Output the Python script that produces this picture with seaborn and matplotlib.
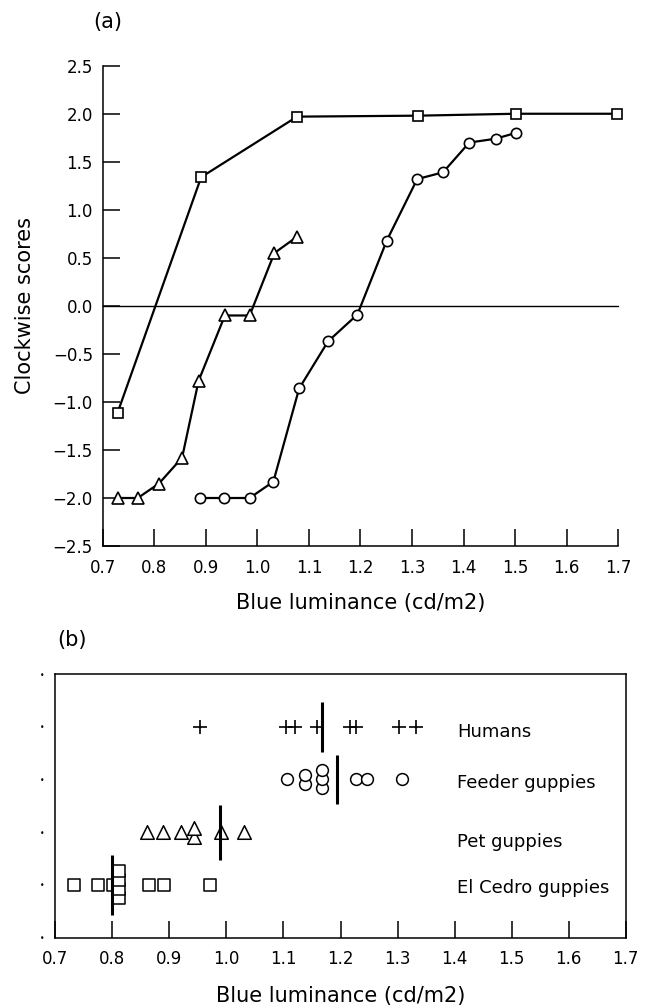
import numpy as np
import pandas as pd
import matplotlib
matplotlib.use('Agg')
import matplotlib.pyplot as plt
from matplotlib.ticker import FuncFormatter
import seaborn as sns

# panel (a): clockwise scores against blue luminance, three groups
square_x = [0.729, 0.891, 1.077, 1.311, 1.501, 1.697]
square_y = [-1.11, 1.34, 1.97, 1.98, 2.00, 2.00]
triangle_x = [0.729, 0.768, 0.809, 0.854, 0.886, 0.937, 0.985, 1.033, 1.077]
triangle_y = [-2.00, -2.00, -1.85, -1.58, -0.78, -0.10, -0.10, 0.55, 0.72]
circle_x = [0.888, 0.936, 0.985, 1.031, 1.081, 1.137, 1.194, 1.251, 1.310,
            1.360, 1.411, 1.462, 1.501]
circle_y = [-2.00, -2.00, -2.00, -1.83, -0.86, -0.37, -0.09, 0.68, 1.32,
            1.39, 1.70, 1.74, 1.80]

# panel (b): individual thresholds per group, with the group value as a bar
groups = ['El Cedro guppies', 'Pet guppies', 'Feeder guppies', 'Humans']
elcedro_x = [0.733, 0.774, 0.802, 0.812, 0.812, 0.812, 0.812, 0.864, 0.891, 0.972]
pet_x = [0.861, 0.889, 0.921, 0.944, 0.944, 0.990, 1.031]
feeder_x = [1.107, 1.138, 1.138, 1.168, 1.168, 1.168, 1.228, 1.246, 1.307]
humans_x = [0.954, 1.105, 1.121, 1.158, 1.216, 1.227, 1.303, 1.332]
group_lines = [0.800, 0.989, 1.193, 1.168]

x_ticks = [0.7, 0.8, 0.9, 1.0, 1.1, 1.2, 1.3, 1.4, 1.5, 1.6, 1.7]

sns.set_style('ticks')
plt.rcParams['font.family'] = ['DejaVu Sans']
plt.rcParams['axes.linewidth'] = 1.1
for key in ['text.color', 'axes.labelcolor', 'axes.edgecolor',
            'xtick.color', 'ytick.color']:
    plt.rcParams[key] = 'black'

fmt = FuncFormatter(lambda v, _: f"{v:.1f}".replace('-', '\u2212'))

fig = plt.figure(figsize=(6.5, 10.08), dpi=100)
ax_a = fig.add_axes([0.158, 0.4583, 0.7932, 0.4765])
ax_b = fig.add_axes([0.0851, 0.0699, 0.8775, 0.2614])

# ---- (a)
series = [('square', square_x, square_y, 's', 7.2),
          ('triangle', triangle_x, triangle_y, '^', 8.2),
          ('circle', circle_x, circle_y, 'o', 7.4)]
ax_a.axhline(0, color='black', lw=1.0, zorder=1)
for name, xs, ys, mk, ms in series:
    d = pd.DataFrame({'lum': xs, 'score': ys})
    sns.lineplot(data=d, x='lum', y='score', ax=ax_a, estimator=None, sort=False,
                 color='black', lw=1.6, marker=mk, markersize=ms,
                 markerfacecolor='white', markeredgecolor='black',
                 markeredgewidth=1.2)
for ln in ax_a.lines:
    ln.set_clip_on(False)

ax_a.set_xlim(0.7, 1.7)
ax_a.set_ylim(-2.5, 2.5)
ax_a.set_xticks(x_ticks)
ax_a.set_yticks(np.arange(-2.5, 2.51, 0.5))
ax_a.xaxis.set_major_formatter(fmt)
ax_a.yaxis.set_major_formatter(fmt)
ax_a.tick_params(direction='in', length=12.5, width=1.1, labelsize=12)
ax_a.tick_params(axis='x', pad=9)
ax_a.tick_params(axis='y', pad=7)
sns.despine(ax=ax_a)
ax_a.set_xlabel('Blue luminance (cd/m2)', fontsize=15)
ax_a.set_ylabel('Clockwise scores', fontsize=15)
ax_a.xaxis.set_label_coords(0.5, -0.0972)
ax_a.yaxis.set_label_coords(-0.1305, 0.5)

# ---- (b)
rows = []
for g, xs in zip(groups, [elcedro_x, pet_x, feeder_x, humans_x]):
    for v in xs:
        rows.append({'group': g, 'lum': v})
df = pd.DataFrame(rows)
df['row'] = df['group'].map({g: i + 1 for i, g in enumerate(groups)})
df['k'] = df.groupby(['group', 'lum']).cumcount()
df['n'] = df.groupby(['group', 'lum'])['lum'].transform('size')
df['ypos'] = df['row'] + (df['k'] - (df['n'] - 1) / 2) * 0.17

styles = {'El Cedro guppies': ('s', 80), 'Pet guppies': ('^', 95),
          'Feeder guppies': ('o', 72), 'Humans': ('+', 90)}
for g in groups:
    sub = df[df['group'] == g]
    mk, s = styles[g]
    if mk == '+':
        sns.scatterplot(data=sub, x='lum', y='ypos', ax=ax_b, marker=mk, s=s,
                        color='black', linewidth=1.2, legend=False, zorder=3)
    else:
        sns.scatterplot(data=sub, x='lum', y='ypos', ax=ax_b, marker=mk, s=s,
                        color='white', edgecolor='black', linewidth=1.1,
                        legend=False, zorder=3)

half = [0.57, 0.52, 0.46, 0.47]
for i, (g, m) in enumerate(zip(groups, group_lines)):
    ax_b.vlines(m, i + 1 - half[i], i + 1 + half[i], color='black', lw=2.2, zorder=4)

label_drop = [0.16, 0.29, 0.17, 0.19]
for i, g in enumerate(groups):
    ax_b.text(1.405, i + 1 - label_drop[i], g, fontsize=13, va='baseline', ha='left')

ax_b.set_xlim(0.7, 1.7)
ax_b.set_ylim(0, 5)
ax_b.set_xticks(x_ticks)
ax_b.xaxis.set_major_formatter(fmt)
ax_b.set_yticks([0, 1, 2, 3, 4, 5])
ax_b.set_yticklabels(['\u2022'] * 6, fontsize=5.5)
ax_b.tick_params(axis='x', direction='in', length=12.5, width=1.1, labelsize=12, pad=9)
ax_b.tick_params(axis='y', length=0, pad=7.6)
ax_b.set_xlabel('Blue luminance (cd/m2)', fontsize=15)
ax_b.set_ylabel('')
ax_b.xaxis.set_label_coords(0.5, -0.184)

fig.text(108 / 650, 1 - 22 / 1008, '(a)', fontsize=15, ha='center', va='center')
fig.text(72 / 650, 1 - 640 / 1008, '(b)', fontsize=15, ha='center', va='center')

fig.savefig('out.png', dpi=100)
